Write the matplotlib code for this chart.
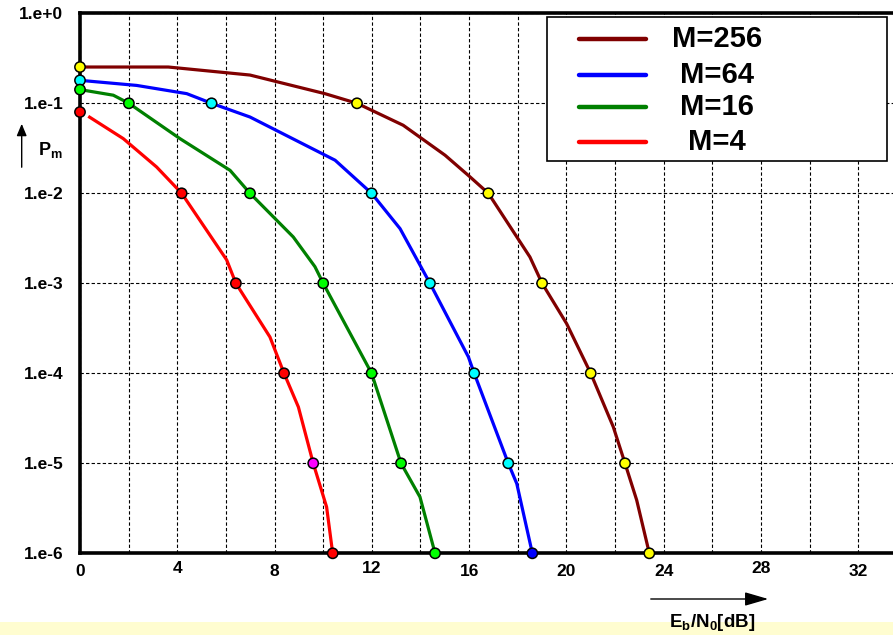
import matplotlib
matplotlib.use("Agg")
import matplotlib.pyplot as plt
from matplotlib.lines import Line2D
from matplotlib.patches import Rectangle, FancyArrowPatch
from matplotlib.transforms import ScaledTranslation

# ---------------- data ----------------
labels = ["M=256", "M=64", "M=16", "M=4"]
line_colors = ["#800000", "#0000ff", "#008000", "#ff0000"]

m256_x = [0, 3.63, 6.99, 10.07, 11.39, 13.29, 15.01, 16.04, 16.79, 18.50, 19.0, 20.01, 21.0, 21.93, 22.41, 22.89, 23.41]
m256_p = [0.253, 0.253, 0.206, 0.128, 0.1, 0.057, 0.0265, 0.0152, 0.01, 1.96e-3, 1e-3, 3.56e-4, 1e-4, 2.53e-5, 1e-5, 3.9e-6, 1e-6]

m64_x = [0, 2.33, 4.39, 5.41, 6.99, 10.49, 11.99, 13.16, 14.39, 15.97, 16.21, 17.61, 17.96, 18.6]
m64_p = [0.18, 0.158, 0.128, 0.1, 0.0704, 0.0233, 0.01, 4.05e-3, 1e-3, 1.52e-4, 1e-4, 1e-5, 5.94e-6, 1e-6]

m16_x = [0, 1.37, 2.01, 4.11, 6.17, 6.99, 8.77, 9.66, 10.0, 11.99, 13.2, 13.98, 14.6]
m16_p = [0.142, 0.123, 0.1, 0.0405, 0.018, 0.01, 3.27e-3, 1.53e-3, 1e-3, 1e-4, 1e-5, 4.22e-6, 1e-6]

m4_x = [0.34, 1.78, 3.15, 4.18, 6.03, 6.41, 7.81, 8.39, 8.98, 9.59, 10.14, 10.39]
m4_p = [0.0717, 0.0405, 0.0196, 0.01, 1.82e-3, 1e-3, 2.53e-4, 1e-4, 4.22e-5, 1e-5, 3.27e-6, 1e-6]

# marker points
mk256_x = [0, 11.39, 16.79, 19.0, 21.0, 22.41, 23.41]
mk256_p = [0.253, 1e-1, 1e-2, 1e-3, 1e-4, 1e-5, 1e-6]
mk256_c = ["#ffff00"] * 7

mk64_x = [0, 5.41, 11.99, 14.39, 16.21, 17.61, 18.6]
mk64_p = [0.18, 1e-1, 1e-2, 1e-3, 1e-4, 1e-5, 1e-6]
mk64_c = ["#00ffff"] * 6 + ["#0000ff"]

mk16_x = [0, 2.01, 6.99, 10.0, 11.99, 13.2, 14.6]
mk16_p = [0.142, 1e-1, 1e-2, 1e-3, 1e-4, 1e-5, 1e-6]
mk16_c = ["#00ff00"] * 7

mk4_x = [0, 4.18, 6.41, 8.39, 9.59, 10.39]
mk4_p = [0.08, 1e-2, 1e-3, 1e-4, 1e-5, 1e-6]
mk4_c = ["#ff0000"] * 4 + ["#ff00ff", "#ff0000"]

xtick_vals = [0, 4, 8, 12, 16, 20, 24, 28, 32]
xminor_vals = [2, 6, 10, 14, 18, 22, 26, 30]
xtick_offsets_px = [0, 3, 0, 3, 0, 0, 0, 3, 0]
ytick_vals = [1e0, 1e-1, 1e-2, 1e-3, 1e-4, 1e-5, 1e-6]
ytick_labels = ["1.e+0", "1.e-1", "1.e-2", "1.e-3", "1.e-4", "1.e-5", "1.e-6"]

# ---------------- style ----------------
plt.rcParams['font.family'] = ['Liberation Sans', 'DejaVu Sans']
plt.rcParams['font.weight'] = 'bold'
plt.rcParams['mathtext.fontset'] = 'custom'
plt.rcParams['mathtext.rm'] = 'Liberation Sans:bold'
plt.rcParams['mathtext.it'] = 'Liberation Sans:bold'
plt.rcParams['mathtext.bf'] = 'Liberation Sans:bold'
plt.rcParams['mathtext.default'] = 'rm'

W, H = 893, 635
fig = plt.figure(figsize=(W / 100, H / 100), dpi=100)
fig.patch.set_facecolor('white')

# bottom yellow band
fig.patches.append(Rectangle((0, 0), 1, 13.3 / H, transform=fig.transFigure,
                             facecolor='#fffdd0', edgecolor='none', zorder=0))

ax = fig.add_axes([80 / W, (H - 553.3) / H, (W - 80) / W, 540 / H])
ax.set_yscale('log')

# grid / ticks
ax.set_xticks(xtick_vals)
ax.set_xticks(xminor_vals, minor=True)
ax.set_yticks(ytick_vals)
ax.set_yticklabels(ytick_labels)
ax.yaxis.set_minor_locator(matplotlib.ticker.NullLocator())
ax.set_xticklabels([str(v) for v in xtick_vals])
ax.set_xlim(0, (W - 80) / 24.32)
ax.set_ylim(1e-6, 1e0)
ax.grid(True, which='both', axis='x', color='black', linestyle=(0, (3, 2)), linewidth=0.8)
ax.grid(True, which='major', axis='y', color='black', linestyle=(0, (3, 2)), linewidth=0.8)
ax.set_axisbelow(True)
ax.tick_params(axis='both', which='both', length=0)
ax.tick_params(axis='y', pad=12, labelsize=12.5)
ax.tick_params(axis='x', pad=8, labelsize=12.5)
for lab, dy in zip(ax.get_xticklabels(), xtick_offsets_px):
    lab.set_fontweight('bold')
    lab.set_transform(lab.get_transform() + ScaledTranslation(0, dy / 100, fig.dpi_scale_trans))
for lab in ax.get_yticklabels():
    lab.set_fontweight('bold')

for s in ['left', 'bottom', 'top']:
    ax.spines[s].set_linewidth(2.6)
    ax.spines[s].set_color('black')
ax.spines['right'].set_visible(False)

# lines
series = [(m256_x, m256_p), (m64_x, m64_p), (m16_x, m16_p), (m4_x, m4_p)]
for (xs, ps), c in zip(series, line_colors):
    ax.plot(xs, ps, color=c, lw=2.3, solid_joinstyle='round', solid_capstyle='butt', zorder=3)

markers = [(mk256_x, mk256_p, mk256_c), (mk64_x, mk64_p, mk64_c),
           (mk16_x, mk16_p, mk16_c), (mk4_x, mk4_p, mk4_c)]
for xs, ps, cs in markers:
    ax.scatter(xs, ps, s=55, c=cs, edgecolors='black', linewidths=1.1, zorder=5, clip_on=False)

# legend (manual)
ax.add_patch(Rectangle((0.5744, 0.7265), 0.9926 - 0.5744, 0.9931 - 0.7265,
                       transform=ax.transAxes, facecolor='white', edgecolor='black',
                       linewidth=1.2, zorder=6))
rows = [0.9524, 0.8857, 0.8265, 0.7617]
for lab, c, yy in zip(labels, line_colors, rows):
    ax.add_line(Line2D([0.6138, 0.6962], [yy, yy], transform=ax.transAxes, color=c,
                       lw=3.2, solid_capstyle='round', zorder=7))
    ax.text(0.7835, yy, lab, transform=ax.transAxes, ha='center', va='center',
            fontsize=21, fontweight='bold', zorder=7)

# axis labels with arrows
fig.add_artist(FancyArrowPatch((21.7 / W, (H - 170) / H), (21.7 / W, (H - 121) / H),
                               transform=fig.transFigure, arrowstyle='-|>,head_length=0.6,head_width=0.25',
                               mutation_scale=12, color='black', lw=1.0))
fig.text(38 / W, (H - 155) / H, r'$P_m$', fontsize=13, ha='left', va='baseline')

fig.add_artist(FancyArrowPatch((648 / W, (H - 599) / H), (771 / W, (H - 599) / H),
                               transform=fig.transFigure, arrowstyle='-|>,head_length=1.2,head_width=0.35',
                               mutation_scale=12, color='black', lw=1.0))
fig.text(712 / W, 8 / H, r'$E_b/N_0[dB]$', fontsize=13.5, ha='center', va='baseline', zorder=5)

fig.savefig('out.png', dpi=100)
